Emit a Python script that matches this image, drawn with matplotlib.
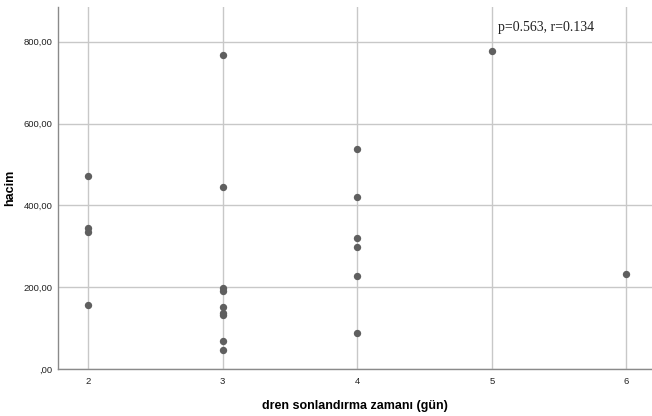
import matplotlib
matplotlib.use("Agg")
import matplotlib.pyplot as plt
from matplotlib.ticker import FuncFormatter

days = [2, 2, 2, 2,
        3, 3, 3, 3, 3, 3, 3, 3, 3,
        4, 4, 4, 4, 4, 4,
        5, 6]
volume = [472, 345, 335, 157,
          768, 445, 197, 190, 152, 136, 131, 68, 46,
          539, 420, 320, 299, 227, 88,
          778, 233]
x_ticks = [2, 3, 4, 5, 6]
y_ticks = [0, 200, 400, 600, 800]
annotation = "p=0.563, r=0.134"

fig = plt.figure(figsize=(6.52, 4.16), dpi=100)
ax = fig.add_axes([58/652, 47/416, 594/652, 362/416])

ax.scatter(days, volume, s=28, color="#5f5f5f", zorder=3, linewidths=0)

ax.set_xlim(1.777, 6.19)
ax.set_ylim(0, 885)
ax.set_xticks(x_ticks)
ax.set_yticks(y_ticks)

def yfmt(v, pos):
    s = f"{v:.2f}".replace(".", ",")
    if s.startswith("0,"):
        s = s[1:]
    return s

ax.yaxis.set_major_formatter(FuncFormatter(yfmt))
ax.grid(True, color="#c8c8c8", linewidth=1.0, zorder=0)
ax.set_axisbelow(True)

for side in ["top", "right"]:
    ax.spines[side].set_visible(False)
for side in ["left", "bottom"]:
    ax.spines[side].set_color("#8a8a8a")
    ax.spines[side].set_linewidth(1.0)

ax.tick_params(axis="both", length=0, labelsize=6.8, colors="#222222",
               labelfontfamily="Liberation Sans")
ax.tick_params(axis="y", pad=4)
ax.tick_params(axis="x", pad=6)

ax.set_xlabel("dren sonlandırma zamanı (gün)", fontsize=9, fontweight="bold",
              family="Liberation Sans")
ax.set_ylabel("hacim", fontsize=9, fontweight="bold", family="Liberation Sans")
ax.xaxis.set_label_coords(0.5, -31/362, transform=ax.transAxes)
ax.yaxis.set_label_coords(-42/594, 0.5, transform=ax.transAxes)

ax.text(5.045, 834, annotation, fontsize=10, family="Liberation Serif",
        ha="left", va="center", color="#222222")

fig.savefig("out.png", dpi=100)
